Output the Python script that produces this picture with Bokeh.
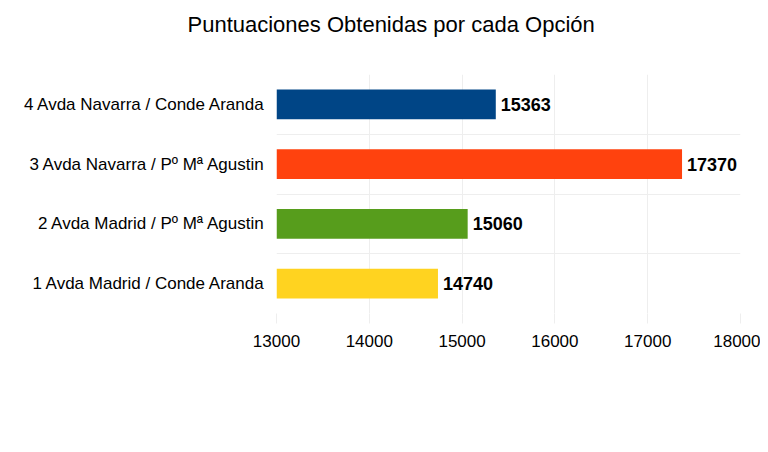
from bokeh.plotting import figure
from bokeh.models import ColumnDataSource, Range1d, FixedTicker, LabelSet, Title
from bokeh.embed import file_html
from bokeh.resources import INLINE
from bokeh.core.properties import value

categories = ["1 Avda Madrid / Conde Aranda", "2 Avda Madrid / Pº Mª Agustin",
              "3 Avda Navarra / Pº Mª Agustin", "4 Avda Navarra / Conde Aranda"]
scores = [14740, 15060, 17370, 15363]
colors = ["#ffd320", "#579d1c", "#ff420e", "#004586"]
x_ticks = [13000, 14000, 15000, 16000, 17000, 18000]
title_text = "Puntuaciones Obtenidas por cada Opción"

FONT = "Liberation Sans"

pos = [i + 0.5 for i in range(len(categories))]
src = ColumnDataSource(dict(y=pos, v=scores, c=colors, lab=[str(s) for s in scores]))

p = figure(width=760, height=444, output_backend="svg", toolbar_location=None,
           x_range=Range1d(x_ticks[0], x_ticks[-1]), y_range=Range1d(0, len(categories)),
           min_border_left=276, min_border_right=20, min_border_bottom=131, min_border_top=5)
p.outline_line_color = None
p.background_fill_color = "white"
p.border_fill_color = "white"

p.title.text = title_text
p.title.align = "left"
p.title.offset = -89
p.title.text_font = FONT
p.title.text_font_style = "normal"
p.title.text_font_size = "22px"
p.title.text_color = "#000000"
p.title.standoff = 18

spacer = Title(text=" ", standoff=26, text_font_size="1px")
p.add_layout(spacer, "above")

p.hbar(y="y", left=x_ticks[0], right="v", height=0.5, fill_color="c", line_color=None, source=src)

labels = LabelSet(x="v", y="y", text="lab", source=src, x_offset=5, text_baseline="middle",
                  text_font=value(FONT), text_font_style="bold", text_font_size="18px", text_color="#000000")
p.add_layout(labels)

p.xaxis.ticker = FixedTicker(ticks=x_ticks)
p.xaxis.axis_line_color = None
p.xaxis.major_tick_line_color = "#eeeeee"
p.xaxis.major_tick_out = 10
p.xaxis.major_tick_in = 0
p.xaxis.minor_tick_line_color = None
p.xaxis.major_label_text_font = FONT
p.xaxis.major_label_text_font_size = "17px"
p.xaxis.major_label_text_color = "#000000"
p.xaxis.major_label_standoff = 11

p.yaxis.ticker = FixedTicker(ticks=pos)
p.yaxis.major_label_overrides = {pv: c for pv, c in zip(pos, categories)}
p.yaxis.axis_line_color = None
p.yaxis.major_tick_line_color = None
p.yaxis.minor_tick_line_color = None
p.yaxis.major_label_text_font = FONT
p.yaxis.major_label_text_font_size = "17px"
p.yaxis.major_label_text_color = "#000000"
p.yaxis.major_label_standoff = 5

p.xgrid.ticker = FixedTicker(ticks=x_ticks)
p.xgrid.grid_line_color = "#eeeeee"
p.ygrid.ticker = FixedTicker(ticks=list(range(len(categories) + 1)))
p.ygrid.grid_line_color = "#eeeeee"

open("out.html", "w").write(file_html(p, INLINE))
